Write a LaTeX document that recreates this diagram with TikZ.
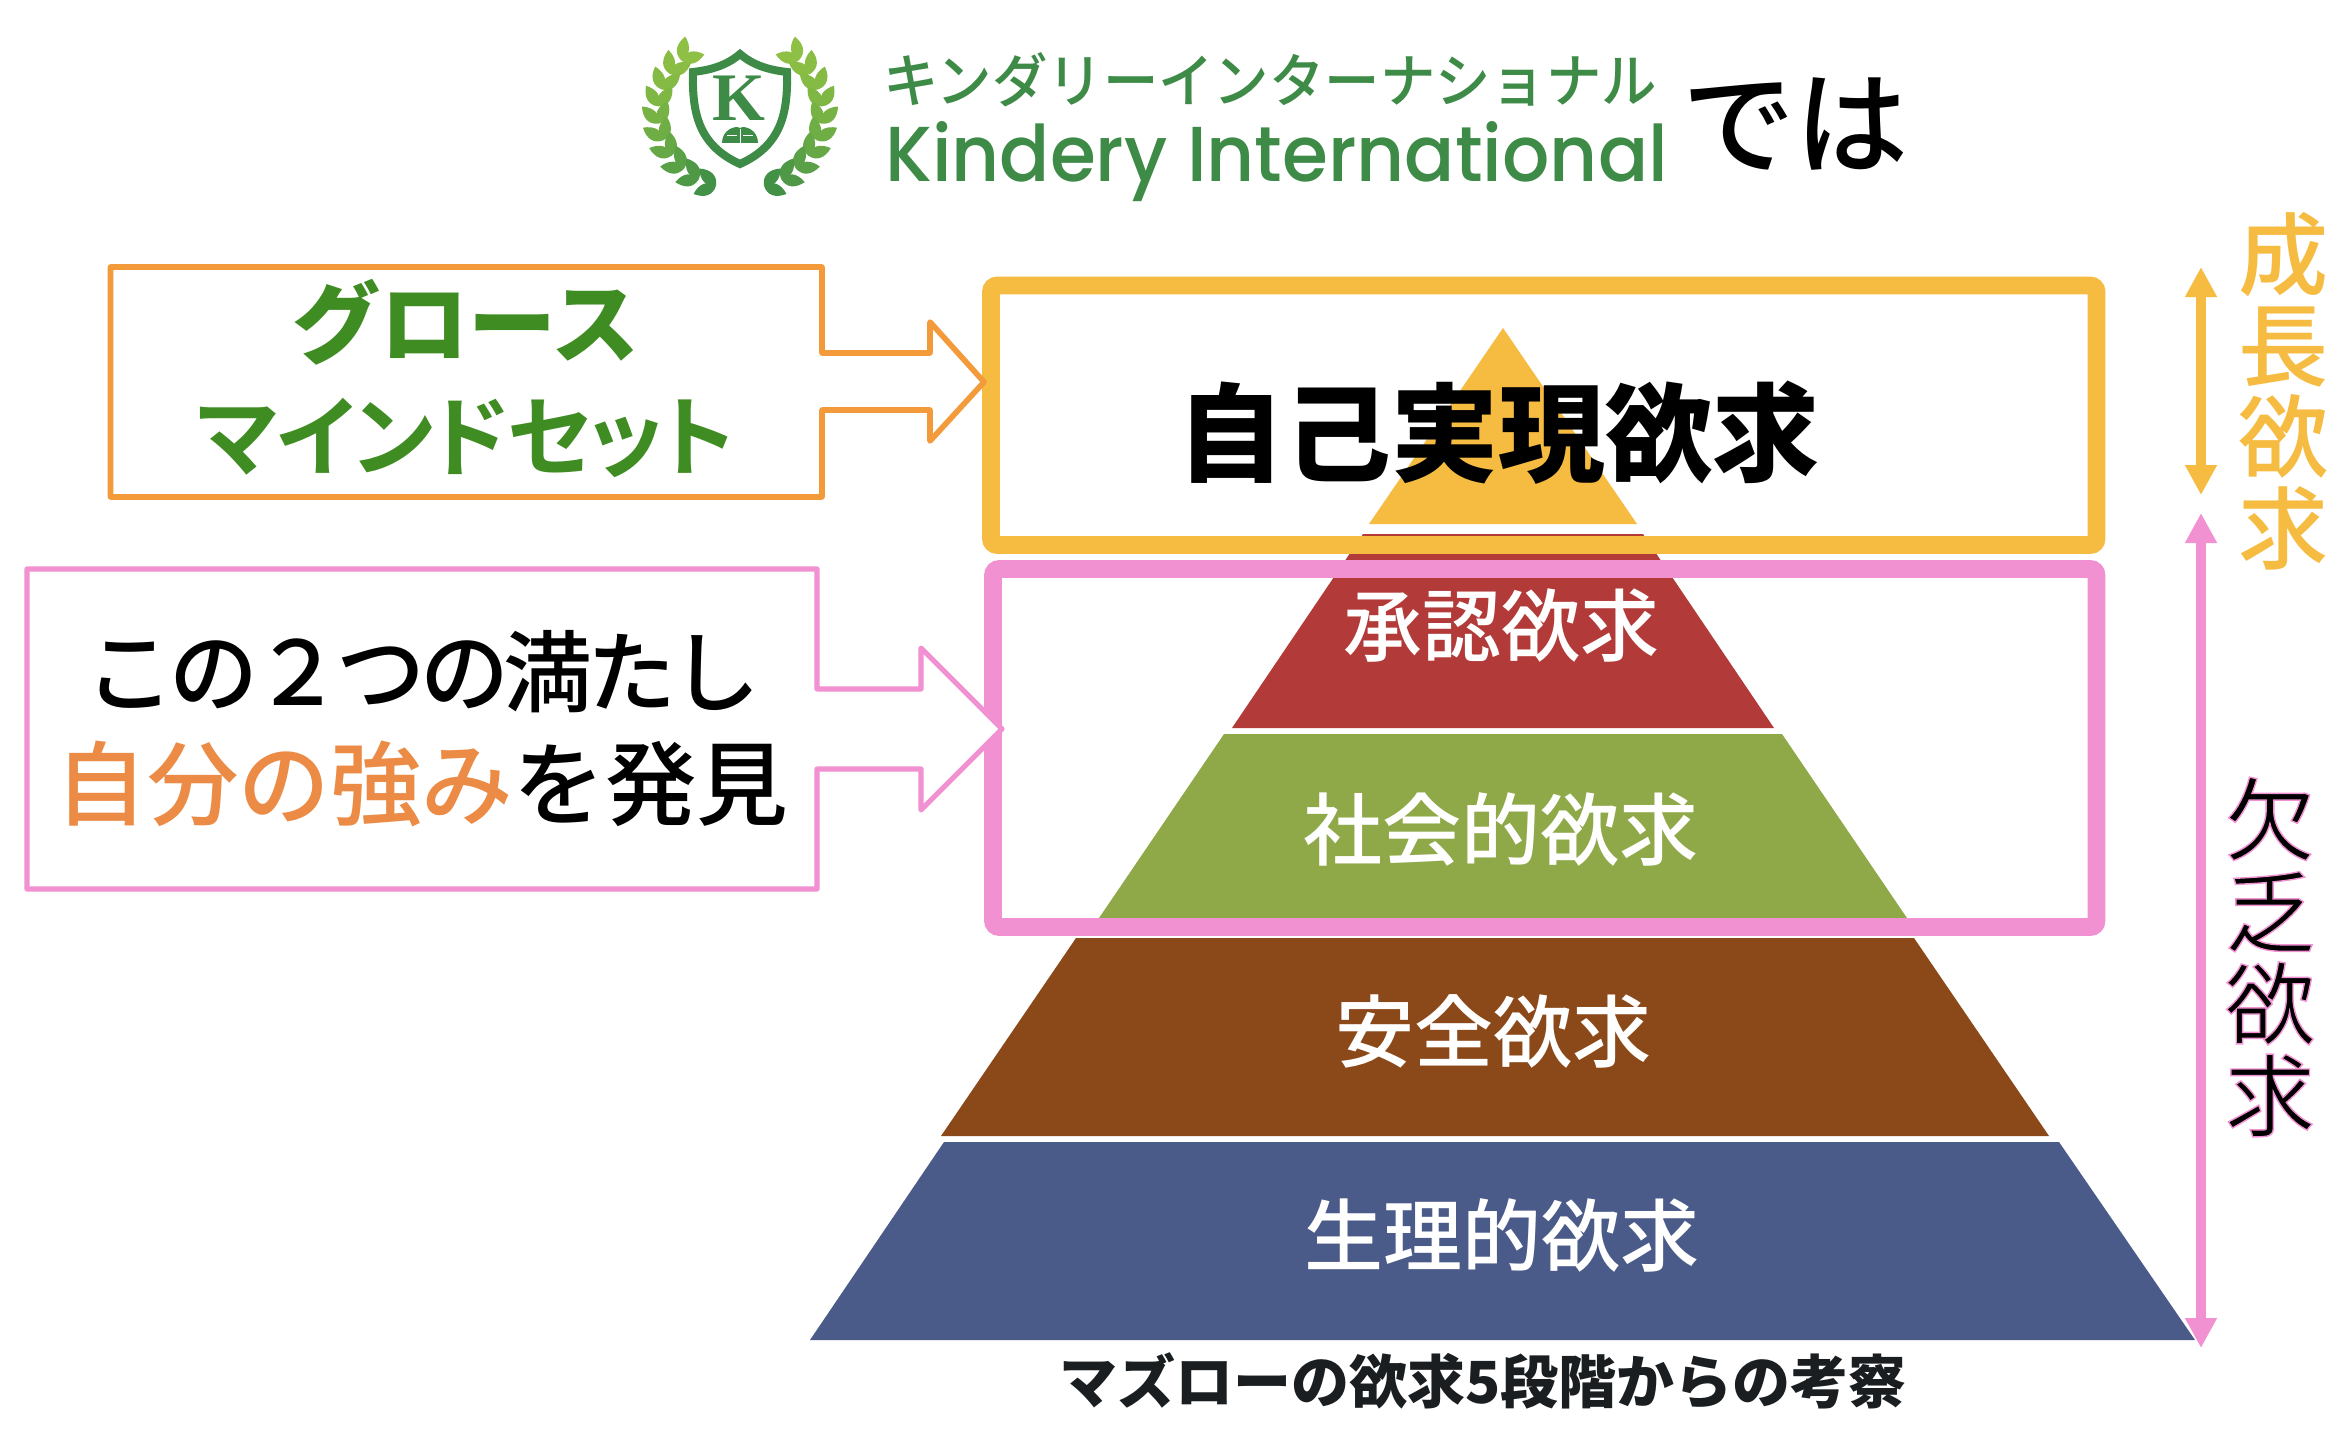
\documentclass[tikz,border=0pt]{standalone}
\usepackage{fontspec}
\usepackage{graphicx}
\setmainfont{Noto Sans CJK JP}
\newfontfamily\medfont{Noto Sans CJK JP Medium}
\newfontfamily\blackfont{Noto Sans CJK JP Black}
\newfontfamily\propfont[RawFeature=+palt,LetterSpace=-2.5]{Noto Sans CJK JP Bold}
\newfontfamily\tightfont[LetterSpace=-6]{Noto Sans CJK JP Medium}
\newfontfamily\logofont{Poppins Medium}
\newfontfamily\kfont{Liberation Serif}
\usetikzlibrary{arrows.meta}
\definecolor{yel}{HTML}{F5BC41}
\definecolor{pnk}{HTML}{F191D2}
\definecolor{org}{HTML}{F39A3B}
\definecolor{orgt}{HTML}{EB8B45}
\definecolor{grn}{HTML}{3F8C23}
\definecolor{logog}{HTML}{3D8B47}
\definecolor{leafa}{HTML}{8DC044}
\definecolor{leafb}{HTML}{3F8F47}
\definecolor{pyr}{HTML}{F5BC41}
\definecolor{pred}{HTML}{B23A38}
\definecolor{pgrn}{HTML}{8FA949}
\definecolor{pbrn}{HTML}{8B4819}
\definecolor{pblu}{HTML}{4B5B89}
\definecolor{capt}{HTML}{1A1E21}
\tikzset{
  lbl/.style={inner sep=0pt,outer sep=0pt,align=center},
  pyrlabel/.style={lbl,text=white,font=\medfont\fontsize{39.5pt}{40pt}\selectfont},
  frame/.style={line width=8.8pt,rounded corners=3pt},
  callout/.style={line join=round,fill=white},
  dbl/.style={line width=5pt,{Triangle[length=15pt,width=15pt]}-{Triangle[length=15pt,width=15pt]}}
}
\begin{document}
\begin{tikzpicture}[x=0.5pt,y=-0.5pt]
\useasboundingbox (0,0) rectangle (2336,1434);
\fill[white] (0,0) rectangle (2336,1434);

% logo: laurel
\foreach \side in {1,-1}{
 \begin{scope}[shift={(740,0)},xscale=\side]
  \foreach \th/\p in {-44/0,-31/5,-18/10,-5/18,8/28,21/38,34/50,47/65,60/80,73/95}{
    \pgfmathsetmacro{\px}{-82*cos(\th)}
    \pgfmathsetmacro{\py}{113+76*sin(\th)}
    \pgfmathsetmacro{\ang}{atan2(76*cos(\th),-82*sin(\th))}
    \foreach \off in {36,-30}{
      \fill[leafb!\p!leafa,shift={(\px,\py)},rotate=\ang+\off] (0,0) .. controls (6,8) and (15,8) .. (24,0) .. controls (15,-8) and (6,-8) .. (0,0);
    }
  }
 \end{scope}
}
% logo: shield
\draw[logog,line width=4pt,line join=miter,fill=white] (740,54) .. controls (726,66) and (710,70) .. (693,72) .. controls (692,112) and (698,145) .. (740,164) .. controls (782,145) and (788,112) .. (787,72) .. controls (770,70) and (754,66) .. (740,54) -- cycle;
\node[lbl,text=logog] (logok) at (739,98) {\kfont\bfseries\fontsize{34pt}{34pt}\selectfont K};
\fill[logog] (722,143) .. controls (722,130) and (735,125) .. (740,128) .. controls (745,125) and (758,130) .. (758,143) -- cycle;
\draw[white,line width=0.5pt] (740,129) -- (740,143) (727,136) -- (737,136) (743,136) -- (753,136);
% logo: words
\node[lbl,text=logog,anchor=south west] (logoja) at (883,107) {\resizebox{387pt}{25pt}{\medfont\fontsize{28pt}{28pt}\selectfont キンダリーインターナショナル}};
\node[lbl,text=logog,anchor=base west] (logoen) at (885,182) {\resizebox{391.5pt}{30pt}{\logofont\fontsize{40pt}{40pt}\selectfont Kindery International}};
\node[lbl,text=black,font=\medfont\fontsize{56.5pt}{57pt}\selectfont] (deha) at (1795,124) {では};

% pyramid
\fill[pyr]  (1503,328) -- (1637,524) -- (1369,524) -- cycle;
\fill[pred] (1363,534) -- (1643,534) -- (1774,728) -- (1232,728) -- cycle;
\fill[pgrn] (1224,734) -- (1782,734) -- (1909,921) -- (1097,921) -- cycle;
\fill[pbrn] (1076,938) -- (1914,938) -- (2049,1136) -- (941,1136) -- cycle;
\fill[pblu] (944,1142) -- (2059,1142) -- (2195,1340) -- (810,1340) -- cycle;

% frames
\draw[frame,yel] (991,285.5) rectangle (2096.5,545);
\draw[frame,pnk] (993,569) rectangle (2096.5,927);

% callouts
\draw[callout,draw=org,line width=2.8pt] (110.5,267) -- (822,267) -- (822,353) -- (930,353) -- (930,322) -- (984,382) -- (930,441) -- (930,410) -- (822,410) -- (822,497) -- (110.5,497) -- cycle;
\draw[callout,draw=pnk,line width=2.6pt] (27,569) -- (817,569) -- (817,689) -- (921,689) -- (921,648) -- (1002,729) -- (921,810) -- (921,769) -- (817,769) -- (817,889) -- (27,889) -- cycle;

% callout text
\node[lbl,text=grn,font=\bfseries\fontsize{44pt}{44pt}\selectfont] (grow) at (466,322) {グロース};
\node[lbl,text=grn,font=\fontsize{44pt}{44pt}\selectfont] (mind) at (466,438) {\propfont マインドセット};
\node[lbl,text=black,font=\fontsize{44.5pt}{45pt}\selectfont] (kono) at (423,672) {\tightfont この２つの満たし};
\node[lbl,text=black,font=\medfont\fontsize{45.8pt}{46pt}\selectfont] (jibun) at (422,784) {\textcolor{orgt}{自分の強み}を発見};

% pyramid labels
\node[lbl,text=black,font=\blackfont\fontsize{53.5pt}{54pt}\selectfont] (l1) at (1498,433) {自己実現欲求};
\node[pyrlabel] (l2) at (1501,626) {承認欲求};
\node[pyrlabel] (l3) at (1501,829) {社会的欲求};
\node[pyrlabel] (l4) at (1493,1031) {安全欲求};
\node[pyrlabel] (l5) at (1502,1235) {生理的欲求};
\node[lbl,text=capt,font=\fontsize{29pt}{30pt}\selectfont\bfseries] (cap) at (1483,1381) {マズローの欲求5段階からの考察};

% side arrows
\coordinate (ya) at (2201,267);
\coordinate (yb) at (2201,495);
\coordinate (pa) at (2201,513);
\coordinate (pb) at (2201,1348);
\draw[dbl,yel] (ya) -- (yb);
\draw[dbl,pnk] (pa) -- (pb);

% side labels
\node[lbl,text=yel,font=\medfont\fontsize{45pt}{45.6pt}\selectfont] (grw) at (2283,391) {成\\長\\欲\\求};
\node[lbl,text=black,font=\fontsize{45pt}{46pt}\selectfont] (lack) at (2270,957) {\special{pdf:code 0.945 0.569 0.824 RG 0.7 w 2 Tr}欠\\\special{pdf:code 0.945 0.569 0.824 RG 0.7 w 2 Tr}乏\\\special{pdf:code 0.945 0.569 0.824 RG 0.7 w 2 Tr}欲\\\special{pdf:code 0.945 0.569 0.824 RG 0.7 w 2 Tr}求\special{pdf:code 0 Tr}};
\end{tikzpicture}
\end{document}
